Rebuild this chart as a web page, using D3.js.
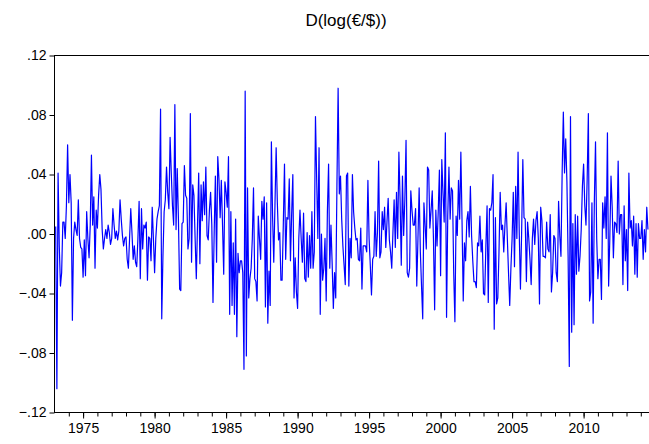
<!DOCTYPE html>
<html>
<head>
<meta charset="utf-8">
<script src="https://cdn.jsdelivr.net/npm/d3@7"></script>
<style>
  body { margin: 0; background: #fff; }
  text { font-family: "Liberation Sans", Arial, sans-serif; fill: #000; }
</style>
</head>
<body>
<div id="container"></div>
<script>
// monthly log changes of the euro/dollar rate, first obs 1973M02
var startYear = 1973, startMonth = 2;

var part1973 = [0.005,-0.104,0.041,-0.008,-0.035,-0.026,0.008,0.008,-0.003,0.019,0.060,0.021,0.040,0.021,-0.058,-0.003,
  0.008,0.003,-0.001,0.023,-0.003,-0.009,-0.010,-0.029,-0.004,-0.028,0.015,-0.003,-0.016,0.006,0.053,0.006,
  0.025,-0.023,0.016,0.004,0.026,0.040,0.030,0.003,-0.010,-0.003,0.003,-0.003,0.006,0.001,-0.007,-0.003,
  0.017,0.006,-0.003,0.002,-0.004,0.002,0.023,0.010,-0.001,-0.008,-0.003,-0.002,-0.017,-0.023,-0.003,0.017,
  0.001,-0.017,-0.008,-0.019,-0.022,-0.003,0.022,-0.030];

var part1979 = [0.017,-0.010,0.006,0.004,0.008,-0.031,-0.002,-0.003,-0.018,0.018,-0.003,-0.026,-0.003,0.010,0.015,0.019,
  0.084,-0.057,-0.015,0.015,0.023,0.045,0.028,0.017,0.065,0.041,0.019,0.006,0.087,0.003,0.044,0.010,
  -0.037,-0.038,0.007,0.008,0.046,0.026,0.024,-0.010,-0.003,0.081,-0.019,0.033,0.026,-0.003,-0.030,0.006,
  0.041,-0.020,0.033,0.009,0.035,0.013,0.045,-0.001,-0.004,0.016,0.028,0.006,-0.046,0.001,0.039,-0.019,
  0.052,0.037,0.011,0.036,0.006,-0.027,0.035,0.028,0.018,0.052,-0.054,0.015,-0.048,-0.006,-0.054,0.010,
  -0.069,-0.013,-0.026,-0.018,-0.018,-0.026];

var part1986 = [-0.091,0.096,-0.082,0.031,-0.043,-0.030,-0.023,-0.003,0.031,-0.030,-0.032,-0.045,0.012,-0.003,-0.017,0.022,
  0.010,0.025,-0.049,0.021,-0.060,-0.025,-0.048,0.062,0.012,-0.019,0.019,0.058,0.021,-0.004,0.001,-0.031,
  -0.031,0.006,0.047,-0.017,0.011,0.010,0.037,-0.018,0.013,0.040,-0.043,-0.016,-0.039,-0.050,-0.003,0.016,
  -0.003,-0.019,0.014,-0.030,-0.032,0.001,-0.029,-0.001,-0.023,0.015,-0.023,-0.012,0.079,0.037,-0.003,0.058,
  -0.054,0.000,-0.031,-0.023,-0.003,-0.045,0.015,0.047,-0.023,0.006,-0.020,-0.050,-0.026,-0.043,0.032,0.098,
  0.027];

var part1993 = [0.039,0.010,-0.008,-0.021,-0.034,0.039,0.041,-0.035,-0.003,-0.016,0.040,0.015,0.004,-0.004,-0.003,-0.017,
  -0.018,0.004,-0.037,-0.008,-0.008,-0.008,-0.012,0.036,-0.003,-0.021,-0.041,-0.017,-0.015,0.015,-0.015,0.001,
  0.049,-0.016,-0.012,0.015,0.003,0.018,-0.009,0.008,0.024,-0.004,-0.012,-0.023,0.001,0.023,-0.009,0.028,
  -0.003,0.055,0.023,-0.021,0.039,-0.001,0.023,0.063,-0.026,-0.029,-0.023,0.029,0.016,0.006,0.006,0.017,
  -0.035,-0.003,0.031,-0.012,-0.035,-0.057,0.021,0.006,-0.010,0.045,0.043,0.004,0.016,0.029,-0.003,-0.051,
  0.016,-0.008,0.015,0.043];

var part2000 = [-0.028,0.050,0.028,0.008,0.068,-0.056,0.012,0.045,0.010,0.031,0.029,-0.026,-0.059,0.012,-0.001,0.036,
  0.010,0.055,0.008,-0.045,-0.006,-0.018,0.009,0.015,-0.002,0.032,-0.001,-0.018,-0.032,-0.032,-0.036,-0.006,
  -0.008,0.012,-0.012,-0.004,-0.040,-0.041,-0.008,0.019,-0.046,0.017,0.016,0.021,0.040,-0.064,0.011,-0.047,
  -0.043,-0.012,0.028,0.003,0.006,-0.012,0.006,0.021,-0.003,-0.026,-0.048,-0.023,-0.003,0.028,-0.022,0.032,
  -0.003,0.055,0.001,-0.037,0.001,0.050,0.011,0.010,-0.032,0.008,-0.003,-0.017,-0.034,-0.003,0.010,-0.007,
  0.009,0.015,-0.003,-0.047];

var part2007 = [0.018,0.009,-0.015,-0.015,-0.016,0.008,-0.010,-0.012,0.013,-0.039,-0.026,-0.001,-0.003,-0.026,-0.032,0.022,
  -0.001,-0.015,0.041,0.082,0.041,0.064,0.035,-0.015,-0.089,0.079,-0.066,0.007,-0.061,0.013,-0.027,0.012,
  -0.025,-0.015,0.003,0.032,0.047,0.019,0.006,0.037,0.081,-0.045,-0.039,0.021,-0.060,0.021,0.062,-0.003,
  -0.030,-0.017,-0.017,-0.044,0.021,0.004,0.025,-0.003,0.068,-0.035,-0.003,0.039,0.018,-0.016,0.008,0.007,
  0.001,0.049,0.000,0.013,0.013,-0.034,0.019,-0.018,0.003,-0.038,0.041,0.004,0.009,-0.008,0.012,-0.027,
  0.007,-0.029,0.007,-0.003,-0.003,0.009,-0.017,0.003,-0.012,0.018,0.003];

var values = [].concat(part1973, part1979, part1986, part1993, part2000, part2007);

var yTicks = [-0.12, -0.08, -0.04, 0, 0.04, 0.08, 0.12];
var labelYears = [1975, 1980, 1985, 1990, 1995, 2000, 2005, 2010];
var titleText = "D(log(\u20AC/$))";

var width = 649, height = 444;
var plotLeft = 54.5, plotTop = 55.5, plotRight = 651, plotBottom = 412.5;
var axisEnd = 1973 + (plotRight - plotLeft) / 14.3;

var data = values.map(function(v, i) {
  return { date: startYear + (startMonth - 1 + i) / 12, value: v };
});

var svg = d3.select("#container").append("svg")
  .attr("width", width)
  .attr("height", height);

var x = d3.scaleLinear().domain([1973, axisEnd]).range([plotLeft, plotRight]);
var y = d3.scaleLinear().domain([-0.12, 0.12]).range([plotBottom, plotTop]);

// title
svg.append("text")
  .attr("x", 346)
  .attr("y", 26)
  .attr("text-anchor", "middle")
  .style("font-size", "17px")
  .text(titleText);

// left axis
var fmt = function(d) {
  var s = d3.format(".2f")(d);
  return s.replace("0.", ".");
};
var yAxis = svg.append("g")
  .attr("transform", "translate(" + plotLeft + ",0)")
  .call(d3.axisLeft(y).tickValues(yTicks).tickSize(5).tickPadding(3).tickFormat(fmt));
yAxis.select(".domain").remove();
yAxis.selectAll("text").style("font-size", "14px");

// bottom axis, a small tick every year, a long one every 5 years
var minor = svg.append("g")
  .attr("transform", "translate(0," + plotBottom + ")")
  .call(d3.axisBottom(x).tickValues(d3.range(1974, 2015)).tickSize(4).tickFormat(""));
minor.select(".domain").remove();

var major = svg.append("g")
  .attr("transform", "translate(0," + plotBottom + ")")
  .call(d3.axisBottom(x).tickValues(labelYears).tickSize(6).tickPadding(5).tickFormat(d3.format("d")));
major.select(".domain").remove();
major.selectAll("text").style("font-size", "14px");

// frame
svg.append("rect")
  .attr("x", plotLeft)
  .attr("y", plotTop)
  .attr("width", plotRight - plotLeft)
  .attr("height", plotBottom - plotTop)
  .attr("fill", "none")
  .attr("stroke", "#000")
  .attr("stroke-width", 1);

// series
var line = d3.line()
  .x(function(d) { return x(d.date); })
  .y(function(d) { return y(d.value); });

svg.append("path")
  .datum(data)
  .attr("fill", "none")
  .attr("stroke", "#0000ff")
  .attr("stroke-width", 1.2)
  .attr("stroke-linejoin", "round")
  .attr("d", line);
</script>
</body>
</html>
